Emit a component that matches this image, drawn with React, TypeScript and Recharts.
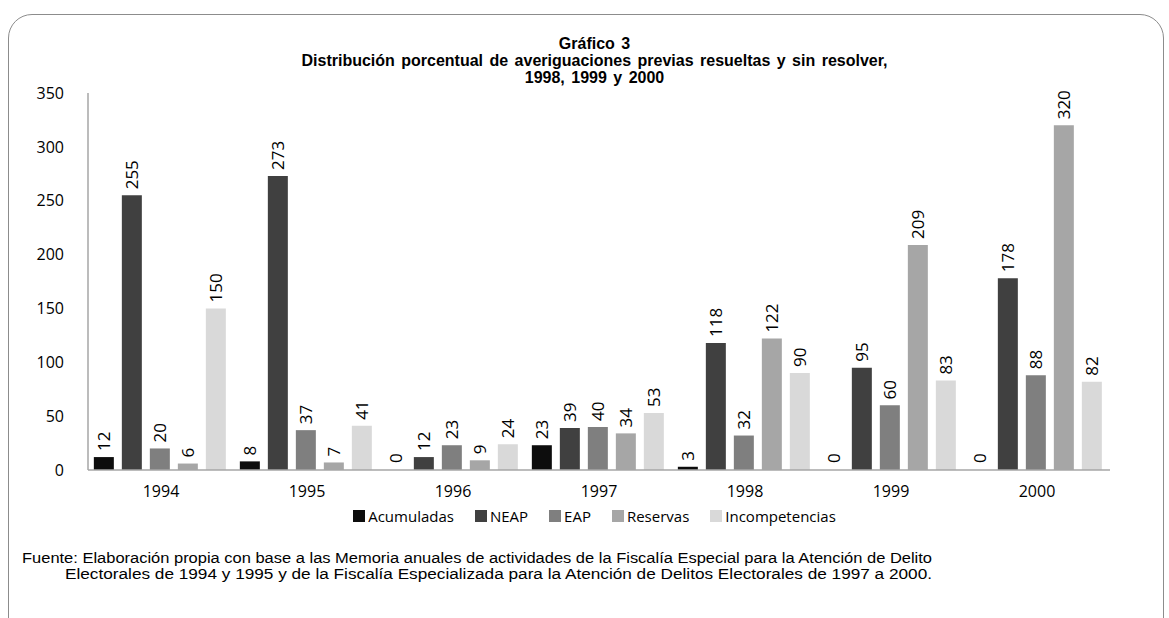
import { Bar, BarChart, Cell, LabelList, XAxis, YAxis } from "recharts";

const YEARS = ["1994", "1995", "1996", "1997", "1998", "1999", "2000"];
const ACUMULADAS = [12, 8, 0, 23, 3, 0, 0];
const NEAP = [255, 273, 12, 39, 118, 95, 178];
const EAP = [20, 37, 23, 40, 32, 60, 88];
const RESERVAS = [6, 7, 9, 34, 122, 209, 320];
const INCOMPETENCIAS = [150, 41, 24, 53, 90, 83, 82];
const Y_TICKS = [0, 50, 100, 150, 200, 250, 300, 350];

const SERIES = [
  { key: "acumuladas", label: "Acumuladas", color: "#0d0d0d", values: ACUMULADAS },
  { key: "neap", label: "NEAP", color: "#404040", values: NEAP },
  { key: "eap", label: "EAP", color: "#7f7f7f", values: EAP },
  { key: "reservas", label: "Reservas", color: "#a6a6a6", values: RESERVAS },
  { key: "incompetencias", label: "Incompetencias", color: "#d9d9d9", values: INCOMPETENCIAS },
];

const data = YEARS.map((year, i) => {
  const row: Record<string, string | number> = { year };
  for (const s of SERIES) row[s.key] = s.values[i];
  return row;
});

const FONT = "'Open Sans', sans-serif";

// value labels sit above each bar, rotated to read bottom-to-top
function VerticalLabel(props: any) {
  const { x, y, width, value } = props;
  const cx = x + width / 2;
  const cy = y - 6;
  return (
    <text
      x={cx}
      y={cy}
      transform={`rotate(-90, ${cx}, ${cy})`}
      textAnchor="start"
      dominantBaseline="central"
      fontFamily={FONT}
      fontSize={17}
      fill="#000"
    >
      {value}
    </text>
  );
}

export default function App() {
  return (
    <div style={{ position: "absolute", left: 0, top: 0, width: 1169, height: 618, background: "#fff", overflow: "hidden" }}>
      <div
        style={{
          position: "absolute",
          left: 8,
          top: 14,
          width: 1156,
          height: 630,
          border: "1.5px solid #8c8c8c",
          borderRadius: 24,
          boxSizing: "border-box",
        }}
      />
      <div
        style={{
          position: "absolute",
          left: 0,
          top: 35,
          width: 1189,
          textAlign: "center",
          fontFamily: "'Liberation Sans', Arial, sans-serif",
          fontWeight: "bold",
          fontSize: 16,
          lineHeight: "17px",
          color: "#000",
          wordSpacing: 2,
        }}
      >
        Gráfico 3
        <br />
        Distribución porcentual de averiguaciones previas resueltas y sin resolver,
        <br />
        1998, 1999 y 2000
      </div>
      <div style={{ position: "absolute", left: 0, top: 0 }}>
        <BarChart
          width={1169}
          height={618}
          data={data}
          margin={{ top: 93, right: 59, bottom: 118, left: 0 }}
          barCategoryGap="4%"
          barGap={8}
        >
          <XAxis
            dataKey="year"
            height={30}
            tickLine={false}
            axisLine={{ stroke: "#a6a6a6", strokeWidth: 1.5 }}
            tick={{ fill: "#000", fontSize: 16, fontFamily: FONT }}
            tickMargin={10}
          />
          <YAxis
            width={88}
            domain={[0, 350]}
            ticks={Y_TICKS}
            tickLine={false}
            axisLine={{ stroke: "#a6a6a6", strokeWidth: 1.5 }}
            tick={{ fill: "#000", fontSize: 16, fontFamily: FONT }}
            tickMargin={18}
          />
          {SERIES.map((s) => (
            <Bar key={s.key} dataKey={s.key} fill={s.color} minPointSize={1} isAnimationActive={false}>
              {s.values.map((v, i) => (
                <Cell key={i} fill={v === 0 ? "transparent" : s.color} />
              ))}
              <LabelList dataKey={s.key} content={<VerticalLabel />} />
            </Bar>
          ))}
        </BarChart>
      </div>
      <div
        style={{
          position: "absolute",
          left: 0,
          top: 506,
          width: 1189,
          display: "flex",
          justifyContent: "center",
          gap: 21,
          fontFamily: FONT,
          fontSize: 15,
          color: "#000",
        }}
      >
        {SERIES.map((s) => (
          <span key={s.key} style={{ display: "flex", alignItems: "center", gap: 3 }}>
            <span style={{ display: "inline-block", width: 12, height: 12, background: s.color }} />
            {s.label}
          </span>
        ))}
      </div>
      <svg style={{ position: "absolute", left: 0, top: 0 }} width={1169} height={618}>
        <text
          x={22}
          y={563}
          textLength={910}
          lengthAdjust="spacingAndGlyphs"
          fontFamily="'Liberation Sans', Arial, sans-serif"
          fontSize={14}
          fill="#000"
        >
          Fuente:  Elaboración propia con base a las Memoria anuales de actividades de la Fiscalía Especial para la Atención de Delito
        </text>
        <text
          x={65}
          y={579}
          textLength={867}
          lengthAdjust="spacingAndGlyphs"
          fontFamily="'Liberation Sans', Arial, sans-serif"
          fontSize={14}
          fill="#000"
        >
          Electorales de 1994 y 1995 y de la Fiscalía Especializada para la Atención de Delitos Electorales de 1997 a 2000.
        </text>
      </svg>
    </div>
  );
}
